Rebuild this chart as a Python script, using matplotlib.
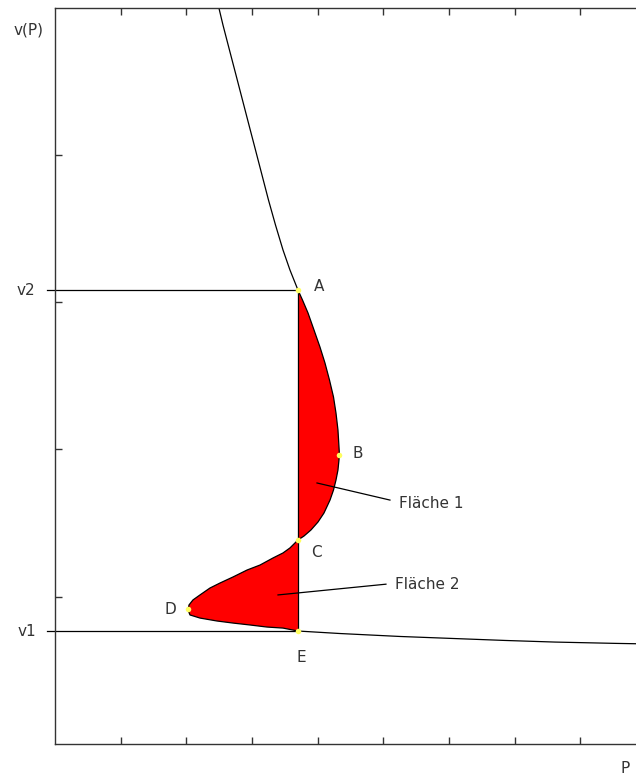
import matplotlib.pyplot as plt

# Isotherm v(P), traced branch by branch
upper_P = [2.467, 2.558, 2.657, 2.756, 2.855, 2.954, 3.053, 3.152, 3.251, 3.358, 3.472, 3.578, 3.700]
upper_v = [5.051, 4.881, 4.711, 4.542, 4.372, 4.202, 4.033, 3.863, 3.693, 3.523, 3.354, 3.218, 3.082]

lobe1_P = [3.700, 3.769, 3.853, 3.944, 4.035, 4.111, 4.180, 4.241, 4.279, 4.309, 4.332,
           4.309, 4.279, 4.241, 4.188, 4.096, 4.005, 3.898, 3.792, 3.700]
lobe1_v = [3.082, 3.014, 2.926, 2.811, 2.695, 2.587, 2.471, 2.356, 2.247, 2.132, 1.962,
           1.860, 1.792, 1.724, 1.656, 1.568, 1.507, 1.453, 1.412, 1.385]

lobe2_P = [3.700, 3.578, 3.472, 3.320, 3.122, 2.924, 2.711, 2.513, 2.360, 2.208, 2.101, 2.041,
           2.025, 2.056, 2.208, 2.467, 2.711, 2.969, 3.228, 3.472, 3.700]
lobe2_v = [1.385, 1.331, 1.297, 1.263, 1.215, 1.181, 1.134, 1.093, 1.059, 1.012, 0.978, 0.944,
           0.910, 0.876, 0.855, 0.835, 0.821, 0.808, 0.794, 0.787, 0.767]

tail_P = [3.700, 4.340, 5.254, 6.259, 6.852, 7.614, 8.543, 9.06]
tail_v = [0.767, 0.750, 0.730, 0.713, 0.703, 0.692, 0.683, 0.679]

# Marked points A..E
point_names = ['A', 'B', 'C', 'D', 'E']
point_P = [3.700, 4.332, 3.700, 2.025, 3.700]
point_v = [3.082, 1.962, 1.385, 0.918, 0.767]
label_P = [4.020, 4.614, 3.975, 1.751, 3.746]
label_v = [3.103, 1.969, 1.303, 0.916, 0.584]

P_line = 3.700
v1, v2 = 0.767, 3.082

fig = plt.figure(figsize=(6.36, 7.76), dpi=100)
ax = fig.add_axes([55 / 636, 32 / 776, 591 / 636, 736.5 / 776])
ax.set_xlim(0, 9)
ax.set_ylim(0, 5)

# shaded areas between the curve and the vertical line
ax.fill(lobe1_P, lobe1_v, color='#ff0000', lw=0)
ax.fill(lobe2_P, lobe2_v, color='#ff0000', lw=0)

curve_P = upper_P + lobe1_P[1:] + lobe2_P[1:] + tail_P[1:]
curve_v = upper_v + lobe1_v[1:] + lobe2_v[1:] + tail_v[1:]
ax.plot(curve_P, curve_v, color='black', lw=0.9)

ax.plot([P_line, P_line], [v1, v2], color='black', lw=0.9)
ax.plot([-0.12, P_line], [v2, v2], color='black', lw=0.9, clip_on=False)
ax.plot([-0.12, P_line], [v1, v1], color='black', lw=0.9, clip_on=False)

ax.plot(point_P, point_v, 'o', color='#ffff60', ms=4, mec='none', zorder=5)
for name, x, y in zip(point_names, label_P, label_v):
    ax.text(x, y, name, fontsize=11, ha='center', va='center', color='#333333')

# leader lines to the area labels
ax.plot([3.990, 5.101], [1.772, 1.656], color='black', lw=0.9)
ax.text(5.238, 1.636, 'Fläche 1', fontsize=11, ha='left', va='center', color='#333333')
ax.plot([3.396, 5.040], [1.012, 1.085], color='black', lw=0.9)
ax.text(5.175, 1.086, 'Fläche 2', fontsize=11, ha='left', va='center', color='#333333')

# axis names and level labels
ax.text(-0.18, 4.847, 'v(P)', fontsize=11, ha='right', va='center', color='#333333', clip_on=False)
ax.text(-0.30, v2, 'v2', fontsize=11, ha='right', va='center', color='#333333', clip_on=False)
ax.text(-0.29, v1, 'v1', fontsize=11, ha='right', va='center', color='#333333', clip_on=False)
ax.text(8.68, -0.163, 'P', fontsize=11, ha='center', va='center', color='#333333', clip_on=False)

ax.set_xticks(range(1, 9))
ax.set_yticks(range(1, 5))
ax.set_xticklabels([])
ax.set_yticklabels([])
ax.tick_params(direction='in', length=5, width=1, colors='#333333', top=True)
for s in ax.spines.values():
    s.set_color('#333333')
    s.set_linewidth(1)

fig.savefig('out.png', dpi=100)
